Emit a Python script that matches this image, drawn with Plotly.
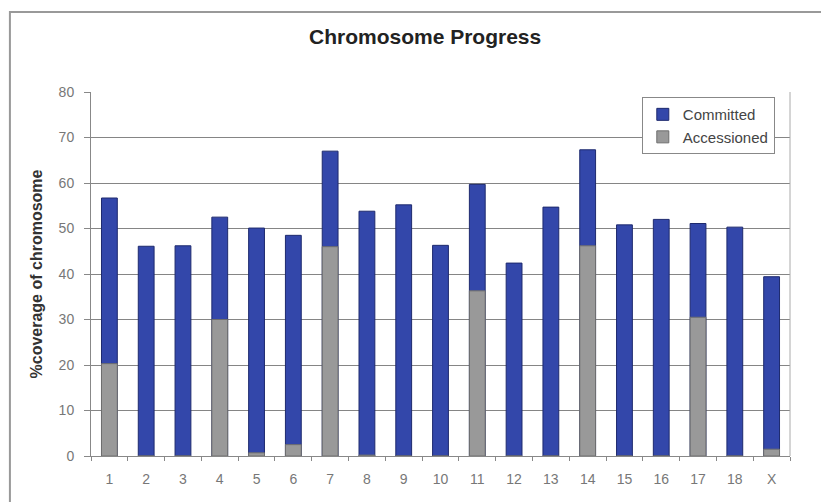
import plotly.graph_objects as go

categories = ["1", "2", "3", "4", "5", "6", "7", "8", "9", "10",
              "11", "12", "13", "14", "15", "16", "17", "18", "X"]
committed = [56.7, 46.1, 46.2, 52.5, 50.1, 48.5, 67.0, 53.8, 55.2, 46.3,
             59.7, 42.4, 54.7, 67.3, 50.8, 52.0, 51.1, 50.3, 39.4]
accessioned = [20.3, 0.0, 0.0, 30.0, 0.7, 2.5, 46.0, 0.2, 0.0, 0.0,
               36.3, 0.0, 0.0, 46.2, 0.0, 0.0, 30.5, 0.0, 1.5]
y_ticks = [0, 10, 20, 30, 40, 50, 60, 70, 80]

fig = go.Figure()
fig.add_trace(go.Bar(x=categories, y=committed, name="Committed",
                     marker=dict(color="#3347AA", line=dict(color="#1E2A6E", width=1))))
fig.add_trace(go.Bar(x=categories, y=accessioned, name="Accessioned",
                     marker=dict(color="#999999", line=dict(color="#6E6E6E", width=1))))

fig.update_layout(
    width=821, height=494,
    barmode="overlay",
    bargap=0.57,
    paper_bgcolor="white",
    plot_bgcolor="white",
    margin=dict(l=83, r=39, t=84, b=46),
    font=dict(family="Liberation Sans, Arial, sans-serif", color="#555555", size=14),
    title=dict(text="<b>Chromosome Progress</b>", x=0.478, xanchor="center",
               xref="paper", y=0.941, yanchor="middle",
               font=dict(size=21, color="#222222")),
    legend=dict(x=0.788, y=0.986, xanchor="left", yanchor="top",
                bgcolor="white", bordercolor="#888888", borderwidth=1,
                font=dict(size=15, color="#444444"),
                traceorder="normal", itemwidth=30, tracegroupgap=0),
    xaxis=dict(showgrid=False, showline=True, linecolor="#888888", linewidth=1,
               ticks="outside", tickson="boundaries", ticklen=4, tickcolor="#888888",
               ticklabelstandoff=10,
               tickfont=dict(size=14, color="#777777"), mirror=False),
    yaxis=dict(range=[0, 80], tickvals=y_ticks, showgrid=True, gridcolor="#858585",
               gridwidth=1, showline=True, linecolor="#888888", linewidth=1,
               ticks="outside", ticklen=6, tickcolor="#888888",
               ticklabelstandoff=7,
               tickfont=dict(size=14, color="#777777"),
               title=dict(text="<b>%coverage of chromosome</b>",
                          font=dict(size=16, color="#333333"), standoff=12),
               zeroline=False),
    shapes=[
        dict(type="line", xref="paper", yref="paper", x0=1, x1=1, y0=0, y1=1,
             line=dict(color="#aaaaaa", width=1)),
        dict(type="rect", xref="paper", yref="paper", x0=-0.116, x1=1.2,
             y0=-0.3, y1=1.22, line=dict(color="#999999", width=2),
             fillcolor="rgba(0,0,0,0)", layer="below"),
    ],
)

fig.write_html("out.html")
